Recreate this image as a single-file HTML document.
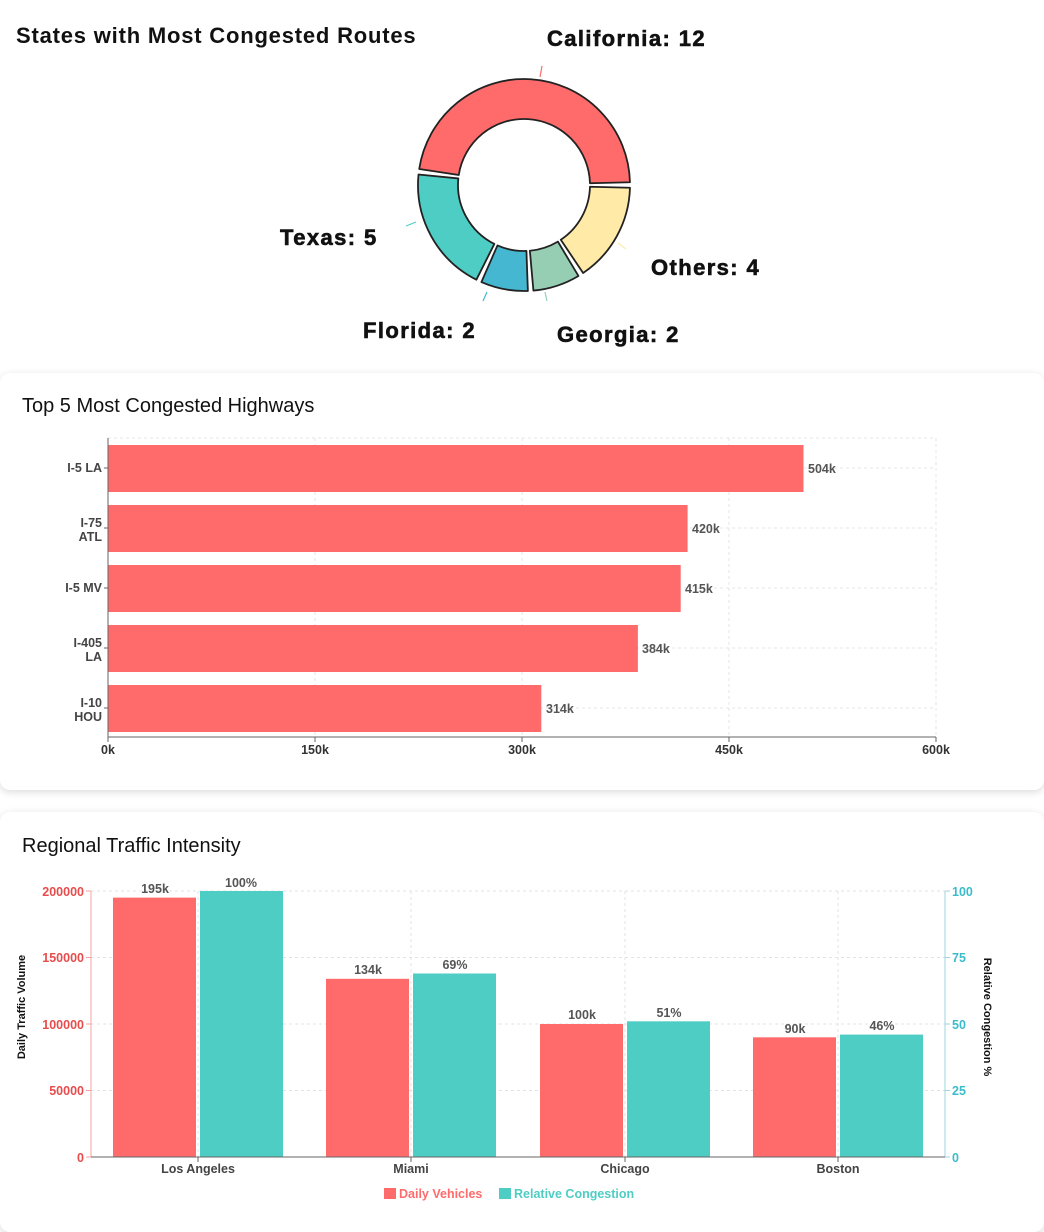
<!DOCTYPE html>
<html><head><meta charset="utf-8">
<style>
body{margin:0;background:#fff;width:1044px;height:1207px;overflow:hidden;font-family:"Liberation Sans",sans-serif;}
.card{position:absolute;left:0;width:1044px;background:#fff;border-radius:10px;box-shadow:0 2px 8px rgba(0,0,0,0.15);}
svg{position:absolute;left:0;top:0;}
</style></head><body>
<div class="card" style="top:373px;height:417px;"></div>
<div class="card" style="top:812px;height:420px;"></div>
<svg width="1044" height="1207" viewBox="0 0 1044 1207" font-family="Liberation Sans, sans-serif">
<text x="16" y="43" font-size="22" font-weight="bold" fill="#111" letter-spacing="0.8">States with Most Congested Routes</text>
<g stroke="#222" stroke-width="1.8" stroke-linejoin="round">
<path d="M629.96,187.78 A106,106 0 0 1 583.12,272.98 L560.81,239.78 A66,66 0 0 0 589.98,186.73 Z" fill="#ffeaa7"/>
<path d="M578.43,275.96 A106,106 0 0 1 533.42,290.58 L529.87,250.74 A66,66 0 0 0 557.89,241.63 Z" fill="#96ceb4"/>
<path d="M527.88,290.93 A106,106 0 0 1 481.40,282.06 L497.47,245.44 A66,66 0 0 0 526.42,250.95 Z" fill="#45b7d1"/>
<path d="M476.37,279.70 A106,106 0 0 1 418.52,174.47 L458.32,178.45 A66,66 0 0 0 494.35,243.96 Z" fill="#4ecdc4"/>
<path d="M419.22,168.96 A106,106 0 0 1 629.96,182.22 L589.98,183.27 A66,66 0 0 0 458.76,175.01 Z" fill="#ff6b6b"/>
</g>
<g stroke-width="1.2">
<line x1="540" y1="77" x2="542" y2="66" stroke="#ff6b6b"/>
<line x1="416" y1="222" x2="406" y2="226" stroke="#4ecdc4"/>
<line x1="618" y1="243" x2="626" y2="249" stroke="#ffeaa7"/>
<line x1="487" y1="292" x2="483" y2="301" stroke="#45b7d1"/>
<line x1="545" y1="292" x2="547" y2="301" stroke="#96ceb4"/>
</g>
<g font-size="22" font-weight="bold" fill="#111" stroke="#111" stroke-width="0.6" letter-spacing="1.4">
<text x="547" y="46">California: 12</text>
<text x="280" y="245">Texas: 5</text>
<text x="651" y="275">Others: 4</text>
<text x="363" y="338">Florida: 2</text>
<text x="557" y="342">Georgia: 2</text>
</g>

<text x="22" y="412" font-size="20" fill="#111">Top 5 Most Congested Highways</text>
<g stroke="#e6e6e6" stroke-dasharray="3,3">
<line x1="108" y1="438" x2="936" y2="438"/>
<line x1="315" y1="438" x2="315" y2="737"/><line x1="522" y1="438" x2="522" y2="737"/>
<line x1="729" y1="438" x2="729" y2="737"/><line x1="936" y1="438" x2="936" y2="737"/>
<line x1="108" y1="468" x2="936" y2="468"/><line x1="108" y1="528" x2="936" y2="528"/>
<line x1="108" y1="588" x2="936" y2="588"/><line x1="108" y1="648" x2="936" y2="648"/>
<line x1="108" y1="708" x2="936" y2="708"/>
</g>
<g fill="#ff6b6b">
<rect x="108" y="445" width="695.5" height="47"/>
<rect x="108" y="505" width="579.6" height="47"/>
<rect x="108" y="565" width="572.7" height="47"/>
<rect x="108" y="625" width="529.9" height="47"/>
<rect x="108" y="685" width="433.3" height="47"/>
</g>
<g stroke="#666"><line x1="108" y1="438" x2="108" y2="737"/><line x1="108" y1="737" x2="936" y2="737"/>
<line x1="104" y1="468" x2="108" y2="468"/><line x1="104" y1="528" x2="108" y2="528"/><line x1="104" y1="588" x2="108" y2="588"/><line x1="104" y1="648" x2="108" y2="648"/><line x1="104" y1="708" x2="108" y2="708"/>
<line x1="108" y1="737" x2="108" y2="742"/><line x1="315" y1="737" x2="315" y2="742"/><line x1="522" y1="737" x2="522" y2="742"/><line x1="729" y1="737" x2="729" y2="742"/><line x1="936" y1="737" x2="936" y2="742"/></g>
<g font-size="12.5" font-weight="bold" fill="#444" text-anchor="end">
<text x="102" y="472">I-5 LA</text>
<text x="102" y="527">I-75</text><text x="102" y="541">ATL</text>
<text x="102" y="592">I-5 MV</text>
<text x="102" y="647">I-405</text><text x="102" y="661">LA</text>
<text x="102" y="707">I-10</text><text x="102" y="721">HOU</text>
</g>
<g font-size="12.5" font-weight="bold" fill="#555">
<text x="808" y="473">504k</text><text x="692" y="533">420k</text><text x="685" y="593">415k</text>
<text x="642" y="653">384k</text><text x="546" y="713">314k</text>
</g>
<g font-size="12.5" font-weight="bold" fill="#333" text-anchor="middle">
<text x="108" y="754">0k</text><text x="315" y="754">150k</text><text x="522" y="754">300k</text><text x="729" y="754">450k</text><text x="936" y="754">600k</text>
</g>

<text x="22" y="852" font-size="20" fill="#111">Regional Traffic Intensity</text>
<g stroke="#e3e3e3" stroke-dasharray="3,3">
<line x1="91" y1="891" x2="945" y2="891"/><line x1="91" y1="957.5" x2="945" y2="957.5"/>
<line x1="91" y1="1024" x2="945" y2="1024"/><line x1="91" y1="1090.5" x2="945" y2="1090.5"/>
<line x1="198" y1="891" x2="198" y2="1157"/><line x1="411" y1="891" x2="411" y2="1157"/>
<line x1="625" y1="891" x2="625" y2="1157"/><line x1="838" y1="891" x2="838" y2="1157"/>
</g>
<g fill="#ff6b6b">
<rect x="113" y="897.6" width="83" height="259.4"/>
<rect x="326" y="978.8" width="83" height="178.2"/>
<rect x="540" y="1024" width="83" height="133"/>
<rect x="753" y="1037.3" width="83" height="119.7"/>
</g>
<g fill="#4ecdc4">
<rect x="200" y="891" width="83" height="266"/>
<rect x="413" y="973.5" width="83" height="183.5"/>
<rect x="627" y="1021.3" width="83" height="135.7"/>
<rect x="840" y="1034.6" width="83" height="122.4"/>
</g>
<line x1="91" y1="891" x2="91" y2="1157" stroke="#f4a0a0"/>
<line x1="945" y1="891" x2="945" y2="1157" stroke="#9fd6dc"/>
<line x1="91" y1="1157" x2="945" y2="1157" stroke="#666"/>
<g stroke="#f4a0a0"><line x1="86" y1="891" x2="91" y2="891"/><line x1="86" y1="957.5" x2="91" y2="957.5"/><line x1="86" y1="1024" x2="91" y2="1024"/><line x1="86" y1="1090.5" x2="91" y2="1090.5"/><line x1="86" y1="1157" x2="91" y2="1157"/></g>
<g stroke="#9fd6dc"><line x1="945" y1="891" x2="950" y2="891"/><line x1="945" y1="957.5" x2="950" y2="957.5"/><line x1="945" y1="1024" x2="950" y2="1024"/><line x1="945" y1="1090.5" x2="950" y2="1090.5"/><line x1="945" y1="1157" x2="950" y2="1157"/></g>
<g stroke="#666"><line x1="198" y1="1157" x2="198" y2="1162"/><line x1="411" y1="1157" x2="411" y2="1162"/><line x1="625" y1="1157" x2="625" y2="1162"/><line x1="838" y1="1157" x2="838" y2="1162"/></g>
<g font-size="12.5" font-weight="bold" fill="#e84c4c" text-anchor="end">
<text x="84" y="896">200000</text><text x="84" y="962">150000</text><text x="84" y="1029">100000</text><text x="84" y="1095">50000</text><text x="84" y="1162">0</text>
</g>
<g font-size="12.5" font-weight="bold" fill="#3bbccb">
<text x="952" y="896">100</text><text x="952" y="962">75</text><text x="952" y="1029">50</text><text x="952" y="1095">25</text><text x="952" y="1162">0</text>
</g>
<text transform="translate(25,1007) rotate(-90)" font-size="11" font-weight="bold" fill="#111" text-anchor="middle">Daily Traffic Volume</text>
<text transform="translate(984,1017) rotate(90)" font-size="11" font-weight="bold" fill="#111" text-anchor="middle">Relative Congestion %</text>
<g font-size="12.5" font-weight="bold" fill="#555" text-anchor="middle">
<text x="155" y="893">195k</text><text x="241" y="887">100%</text>
<text x="368" y="974">134k</text><text x="455" y="969">69%</text>
<text x="582" y="1019">100k</text><text x="669" y="1017">51%</text>
<text x="795" y="1033">90k</text><text x="882" y="1030">46%</text>
</g>
<g font-size="12.5" font-weight="bold" fill="#444" text-anchor="middle">
<text x="198" y="1173">Los Angeles</text><text x="411" y="1173">Miami</text><text x="625" y="1173">Chicago</text><text x="838" y="1173">Boston</text>
</g>
<rect x="384" y="1188" width="12" height="11" fill="#ff6b6b"/>
<text x="399" y="1198" font-size="12.5" font-weight="bold" fill="#ff6b6b">Daily Vehicles</text>
<rect x="499" y="1188" width="12" height="11" fill="#4ecdc4"/>
<text x="514" y="1198" font-size="12.5" font-weight="bold" fill="#4ecdc4">Relative Congestion</text>
</svg>
</body></html>
